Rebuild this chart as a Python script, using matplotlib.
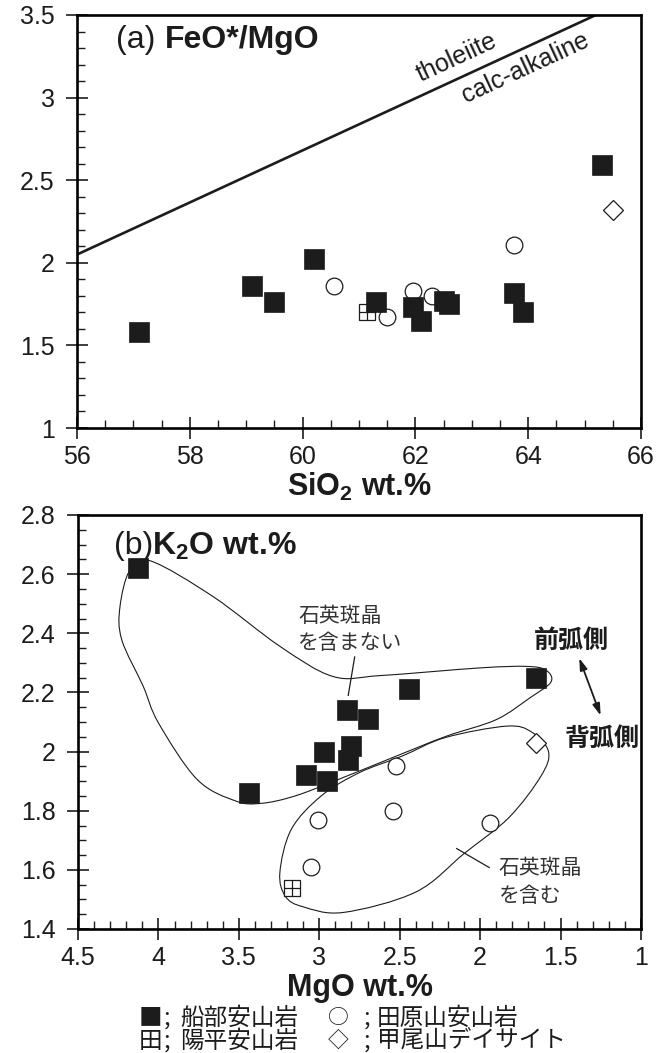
import matplotlib
matplotlib.use('Agg')
import matplotlib.pyplot as plt
import numpy as np
from matplotlib.path import Path
from matplotlib.patches import PathPatch
from matplotlib.ticker import MultipleLocator, FuncFormatter

plt.rcParams['font.family'] = ['Liberation Sans', 'DejaVu Sans']
plt.rcParams['mathtext.fontset'] = 'custom'
plt.rcParams['mathtext.rm'] = 'Liberation Sans'
plt.rcParams['mathtext.bf'] = 'Liberation Sans:bold'
plt.rcParams['axes.linewidth'] = 1.9
JP = ['Noto Sans CJK JP', 'DejaVu Sans']
INK = '#1c1c1c'

# (a) SiO2 vs FeO*/MgO
funabe_sio2 = [57.1, 59.1, 59.5, 60.2, 61.3, 61.95, 62.1, 62.5, 62.6, 63.75, 63.9, 65.3]
funabe_feo_mgo = [1.58, 1.86, 1.76, 2.02, 1.76, 1.73, 1.65, 1.77, 1.75, 1.82, 1.70, 2.59]
tawara_sio2 = [60.55, 61.5, 61.95, 62.3, 63.75]
tawara_feo_mgo = [1.86, 1.67, 1.83, 1.80, 2.11]
youhei_sio2 = [61.15]
youhei_feo_mgo = [1.70]
kabuto_sio2 = [65.5]
kabuto_feo_mgo = [2.32]
# tholeiite / calc-alkaline boundary (end points)
boundary_sio2 = [56.0, 65.2]
boundary_ratio = [2.05, 3.5]

# (b) MgO vs K2O
funabe_mgo = [4.13, 3.44, 3.08, 2.97, 2.95, 2.83, 2.70, 2.80, 2.82, 2.44, 1.65]
funabe_k2o = [2.62, 1.86, 1.92, 2.00, 1.90, 2.14, 2.11, 2.02, 1.97, 2.21, 2.25]
tawara_mgo = [2.52, 2.54, 3.01, 3.05, 1.94]
tawara_k2o = [1.95, 1.80, 1.77, 1.61, 1.76]
youhei_mgo = [3.17]
youhei_k2o = [1.54]
kabuto_mgo = [1.65]
kabuto_k2o = [2.03]

# hand drawn groupings in (b)
no_qtz_mgo = [4.05, 3.66, 3.245, 2.915, 2.62, 2.0, 1.71, 1.59, 1.56, 1.69, 1.90, 2.21, 2.52,
              2.88, 3.15, 3.36, 3.52, 3.76, 4.00, 4.094, 4.228, 4.239, 4.177]
no_qtz_k2o = [2.645, 2.524, 2.356, 2.254, 2.257, 2.283, 2.288, 2.275, 2.235, 2.182, 2.108, 2.052, 1.985,
              1.906, 1.850, 1.825, 1.833, 1.906, 2.097, 2.22, 2.378, 2.49, 2.614]
qtz_mgo = [1.836, 1.68, 1.575, 1.622, 1.821, 2.10, 2.40, 2.85, 3.10, 3.21, 3.245, 3.174,
           2.988, 2.75, 2.484, 2.219]
qtz_k2o = [2.086, 2.066, 2.0, 1.917, 1.777, 1.655, 1.525, 1.456, 1.475, 1.51, 1.591, 1.737,
           1.850, 1.929, 1.985, 2.047]


def closed_curve(xs, ys):
    pts = np.column_stack([xs, ys])
    n = len(pts)
    verts = [pts[0]]
    codes = [Path.MOVETO]
    for i in range(n):
        p0, p1, p2, p3 = pts[i - 1], pts[i], pts[(i + 1) % n], pts[(i + 2) % n]
        verts += [p1 + (p2 - p0) / 6, p2 - (p3 - p1) / 6, p2]
        codes += [Path.CURVE4] * 3
    return Path(verts, codes)


def style_axes(ax, xmaj, xmin, ymaj, ymin):
    ax.xaxis.set_major_locator(MultipleLocator(xmaj))
    ax.xaxis.set_minor_locator(MultipleLocator(xmin))
    ax.yaxis.set_major_locator(MultipleLocator(ymaj))
    ax.yaxis.set_minor_locator(MultipleLocator(ymin))
    fmt = FuncFormatter(lambda v, p: '%g' % round(v, 3))
    ax.xaxis.set_major_formatter(fmt)
    ax.yaxis.set_major_formatter(fmt)
    ax.tick_params(which='major', direction='inout', length=16, width=1.2,
                   labelsize=18, top=False, right=False, colors=INK)
    ax.tick_params(which='minor', direction='in', length=6, width=1.0,
                   top=False, right=False, colors=INK)
    ax.tick_params(axis='x', which='major', pad=4)
    ax.tick_params(axis='y', which='major', pad=8)


def draw_points(ax, fx, fy, tx, ty, yx, yy, kx, ky):
    ax.plot(yx, yy, ls='none', marker='s', ms=11.5, mfc='white', mec=INK, mew=0.9, zorder=3)
    ax.plot(yx, yy, ls='none', marker='+', ms=11.5, mec=INK, mew=0.9, zorder=3)
    ax.plot(tx, ty, ls='none', marker='o', ms=12, mfc='white', mec=INK, mew=0.9, zorder=4)
    ax.plot(kx, ky, ls='none', marker='D', ms=10.5, mfc='white', mec=INK, mew=0.9, zorder=4)
    ax.plot(fx, fy, ls='none', marker='s', ms=14, mfc=INK, mec=INK, mew=0.5, zorder=5)


fig = plt.figure(figsize=(6.64, 10.53), dpi=100)

# ---- (a)
ax1 = fig.add_axes([77 / 664, 1 - 428 / 1053, 564 / 664, 413 / 1053])
ax1.set_xlim(56, 66)
ax1.set_ylim(1, 3.5)
style_axes(ax1, 2, 0.5, 0.5, 0.1)
ax1.plot(boundary_sio2, boundary_ratio, color=INK, lw=1.9, solid_capstyle='butt')
draw_points(ax1, funabe_sio2, funabe_feo_mgo, tawara_sio2, tawara_feo_mgo,
            youhei_sio2, youhei_feo_mgo, kabuto_sio2, kabuto_feo_mgo)
ang = np.degrees(np.arctan((boundary_ratio[1] - boundary_ratio[0]) / (boundary_sio2[1] - boundary_sio2[0])))
ax1.text(62.73, 3.24, 'tholeiite', fontsize=18, rotation=ang, rotation_mode='anchor',
         transform_rotates_text=True, ha='center', va='center', color=INK)
ax1.text(63.95, 3.18, 'calc-alkaline', fontsize=18, rotation=ang, rotation_mode='anchor',
         transform_rotates_text=True, ha='center', va='center', color=INK)
ax1.text(0.069, 0.939, '(a)', transform=ax1.transAxes, fontsize=23, va='center', color=INK)
ax1.text(0.156, 0.939, 'FeO*/MgO', transform=ax1.transAxes, fontsize=23, fontweight='bold',
         va='center', color=INK)
ax1.set_xlabel(r'SiO$_{\mathbf{2}}$ wt.%', fontsize=22, fontweight='bold', color=INK)
ax1.xaxis.set_label_coords(0.5, -0.142)
ax1.xaxis.label.set_va('center')

# ---- (b)
ax2 = fig.add_axes([78 / 664, 1 - 929 / 1053, 563 / 664, 414 / 1053])
ax2.set_xlim(4.5, 1)
ax2.set_ylim(1.4, 2.8)
style_axes(ax2, 0.5, 0.1, 0.2, 0.05)
ax2.add_patch(PathPatch(closed_curve(no_qtz_mgo, no_qtz_k2o), fill=False, ec=INK, lw=0.8, zorder=2))
ax2.add_patch(PathPatch(closed_curve(qtz_mgo, qtz_k2o), fill=False, ec=INK, lw=0.8, zorder=2))
draw_points(ax2, funabe_mgo, funabe_k2o, tawara_mgo, tawara_k2o,
            youhei_mgo, youhei_k2o, kabuto_mgo, kabuto_k2o)

ax2.text(3.13, 2.495, '石英斑晶\nを含まない', family=JP, fontsize=15, ha='left', va='top',
         linespacing=1.3, color='#333333')
ax2.plot([2.78, 2.82], [2.32, 2.19], color=INK, lw=0.9)
ax2.text(1.885, 1.642, '石英斑晶\nを含む', family=JP, fontsize=15, ha='left', va='top',
         linespacing=1.3, color='#333333')
ax2.plot([1.944, 2.146], [1.608, 1.672], color=INK, lw=0.9)

ax2.text(1.43, 2.375, '前弧側', family=JP, fontsize=18, fontweight='bold', ha='center',
         va='center', color=INK)
ax2.text(1.24, 2.044, '背弧側', family=JP, fontsize=18, fontweight='bold', ha='center',
         va='center', color=INK, clip_on=False)
ax2.annotate('', xy=(1.251, 2.122), xytext=(1.384, 2.316),
             arrowprops=dict(arrowstyle='<|-|>,head_length=0.7,head_width=0.22',
                             color=INK, lw=1.3, shrinkA=0, shrinkB=0))

ax2.text(0.064, 0.925, '(b)', transform=ax2.transAxes, fontsize=23, va='center', color=INK)
ax2.text(0.131, 0.925, r'K$_{\mathbf{2}}$O wt.%', transform=ax2.transAxes, fontsize=23,
         fontweight='bold', va='center', color=INK)
ax2.set_xlabel('MgO wt.%', fontsize=22, fontweight='bold', color=INK)
ax2.xaxis.set_label_coords(0.5, -0.142)
ax2.xaxis.label.set_va('center')

# ---- legend (text)
def fig_text(x, y, s, size=17):
    fig.text(x / 664, 1 - y / 1053, s, family=JP, fontsize=size, va='center', ha='left',
             color=INK)

rows = [(1018, '■', '船部安山岩', '○', '田原山安山岩'),
        (1041, '田', '陽平安山岩', '◇', '甲尾山デイサイト')]
for y, m1, n1, m2, n2 in rows:
    fig_text(139, y, m1)
    fig_text(164, y, ';')
    fig_text(180, y, n1)
    fig_text(328, y, m2, size=15)
    fig_text(364, y, ';')
    fig_text(377, y, n2)

fig.savefig('out.png', dpi=100)
